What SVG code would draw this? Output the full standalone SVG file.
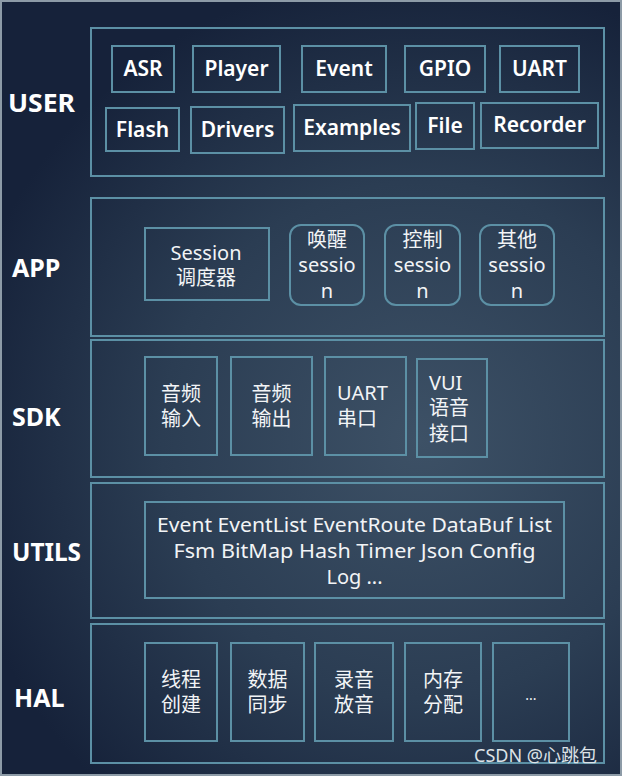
<svg xmlns="http://www.w3.org/2000/svg" width="622" height="776" viewBox="0 0 622 776">
<defs>
<radialGradient id="bg" cx="420" cy="440" r="470" gradientUnits="userSpaceOnUse">
<stop offset="0" stop-color="#3d5166"/>
<stop offset="0.55" stop-color="#2b3d53"/>
<stop offset="1" stop-color="#16223a"/>
</radialGradient>
<style>
.layer{fill:none;stroke:#5c90a5;stroke-width:2}
.box{fill:none;stroke:#5c90a5;stroke-width:2}
.lbl{font-family:"Noto Sans","Noto Sans CJK SC",sans-serif;font-weight:bold;font-size:25px;fill:#ffffff}
.t{font-family:"Noto Sans","Noto Sans CJK SC",sans-serif;font-weight:600;font-size:21px;fill:#ffffff;text-anchor:middle}
.c{font-family:"Noto Sans","Noto Sans CJK SC",sans-serif;font-size:20px;fill:#f2f4f6;text-anchor:middle}
.cl{font-family:"Noto Sans","Noto Sans CJK SC",sans-serif;font-size:20px;fill:#f2f4f6}
.wm{font-family:"Noto Sans","Noto Sans CJK SC",sans-serif;font-size:18px;fill:#dde2e7}
</style>
</defs>
<rect x="0" y="0" width="622" height="776" fill="url(#bg)"/>
<rect x="1" y="1" width="620" height="774" fill="none" stroke="#8d9ba7" stroke-width="2"/>

<g id="layer-user">
<rect class="layer" x="91" y="28" width="513" height="148"/>
<text class="lbl" x="8" y="112" textLength="67" lengthAdjust="spacingAndGlyphs">USER</text>
</g>
<g id="asr"><rect class="box" x="112" y="46" width="62" height="46"/><text class="t" x="143" y="76">ASR</text></g>
<g id="player"><rect class="box" x="193" y="46" width="87" height="46"/><text class="t" x="236.5" y="76">Player</text></g>
<g id="event"><rect class="box" x="302" y="46" width="84" height="46"/><text class="t" x="344" y="76">Event</text></g>
<g id="gpio"><rect class="box" x="405" y="46" width="80" height="46"/><text class="t" x="445" y="76">GPIO</text></g>
<g id="uart"><rect class="box" x="500" y="46" width="79" height="46"/><text class="t" x="539.5" y="76">UART</text></g>
<g id="flash"><rect class="box" x="106" y="108" width="73" height="43"/><text class="t" x="142.5" y="137">Flash</text></g>
<g id="drivers"><rect class="box" x="191" y="107" width="93" height="46"/><text class="t" x="237.5" y="137">Drivers</text></g>
<g id="examples"><rect class="box" x="294" y="105" width="116" height="46"/><text class="t" x="352" y="135">Examples</text></g>
<g id="file"><rect class="box" x="416" y="103" width="58" height="46"/><text class="t" x="445" y="133">File</text></g>
<g id="recorder"><rect class="box" x="481" y="103" width="117" height="45"/><text class="t" x="539.5" y="132">Recorder</text></g>

<g id="layer-app">
<rect class="layer" x="91" y="198" width="513" height="138"/>
<text class="lbl" x="12" y="277">APP</text>
</g>
<g id="session-scheduler"><rect class="box" x="145" y="228" width="124" height="72"/>
<text class="c" x="206" y="260">Session</text><text class="c" x="206" y="285">调度器</text></g>
<g id="wake-session"><rect class="box" x="290" y="225" width="74" height="80" rx="11"/>
<text class="c" x="327" y="247">唤醒</text><text class="c" x="327" y="272">sessio</text><text class="c" x="327" y="298">n</text></g>
<g id="ctrl-session"><rect class="box" x="385" y="225" width="75" height="80" rx="11"/>
<text class="c" x="422.5" y="247">控制</text><text class="c" x="422.5" y="272">sessio</text><text class="c" x="422.5" y="298">n</text></g>
<g id="other-session"><rect class="box" x="480" y="225" width="74" height="80" rx="11"/>
<text class="c" x="517" y="247">其他</text><text class="c" x="517" y="272">sessio</text><text class="c" x="517" y="298">n</text></g>

<g id="layer-sdk">
<rect class="layer" x="91" y="340" width="513" height="137"/>
<text class="lbl" x="12" y="426">SDK</text>
</g>
<g id="audio-in"><rect class="box" x="145" y="357" width="72" height="98"/>
<text class="c" x="181" y="401">音频</text><text class="c" x="181" y="426">输入</text></g>
<g id="audio-out"><rect class="box" x="231" y="357" width="81" height="98"/>
<text class="c" x="271.5" y="401">音频</text><text class="c" x="271.5" y="426">输出</text></g>
<g id="uart-serial"><rect class="box" x="325" y="357" width="81" height="98"/>
<text class="cl" x="337" y="400">UART</text><text class="cl" x="337" y="426">串口</text></g>
<g id="vui"><rect class="box" x="417" y="359" width="70" height="98"/>
<text class="cl" x="429" y="390">VUI</text><text class="cl" x="429" y="415">语音</text><text class="cl" x="429" y="441">接口</text></g>

<g id="layer-utils">
<rect class="layer" x="91" y="483" width="513" height="135"/>
<text class="lbl" x="12" y="561" textLength="69" lengthAdjust="spacingAndGlyphs">UTILS</text>
</g>
<g id="utils-list"><rect class="box" x="145" y="502" width="419" height="96"/>
<text class="c" x="354.5" y="532" textLength="395" lengthAdjust="spacingAndGlyphs">Event EventList EventRoute DataBuf List</text>
<text class="c" x="354.5" y="558" textLength="362" lengthAdjust="spacingAndGlyphs">Fsm BitMap Hash Timer Json Config</text>
<text class="c" x="354.5" y="584">Log ...</text></g>

<g id="layer-hal">
<rect class="layer" x="91" y="624" width="513" height="139"/>
<text class="lbl" x="14" y="707">HAL</text>
</g>
<g id="thread"><rect class="box" x="145" y="643" width="72" height="98"/>
<text class="c" x="181" y="687">线程</text><text class="c" x="181" y="712">创建</text></g>
<g id="sync"><rect class="box" x="231" y="643" width="73" height="98"/>
<text class="c" x="267.5" y="687">数据</text><text class="c" x="267.5" y="712">同步</text></g>
<g id="record-play"><rect class="box" x="315" y="643" width="78" height="98"/>
<text class="c" x="354" y="687">录音</text><text class="c" x="354" y="712">放音</text></g>
<g id="memory"><rect class="box" x="405" y="643" width="76" height="98"/>
<text class="c" x="443" y="687">内存</text><text class="c" x="443" y="712">分配</text></g>
<g id="more"><rect class="box" x="493" y="643" width="76" height="98"/>
<text class="c" x="531" y="700" style="font-size:14px">...</text></g>

<text class="wm" x="474" y="762">CSDN @心跳包</text>
</svg>
